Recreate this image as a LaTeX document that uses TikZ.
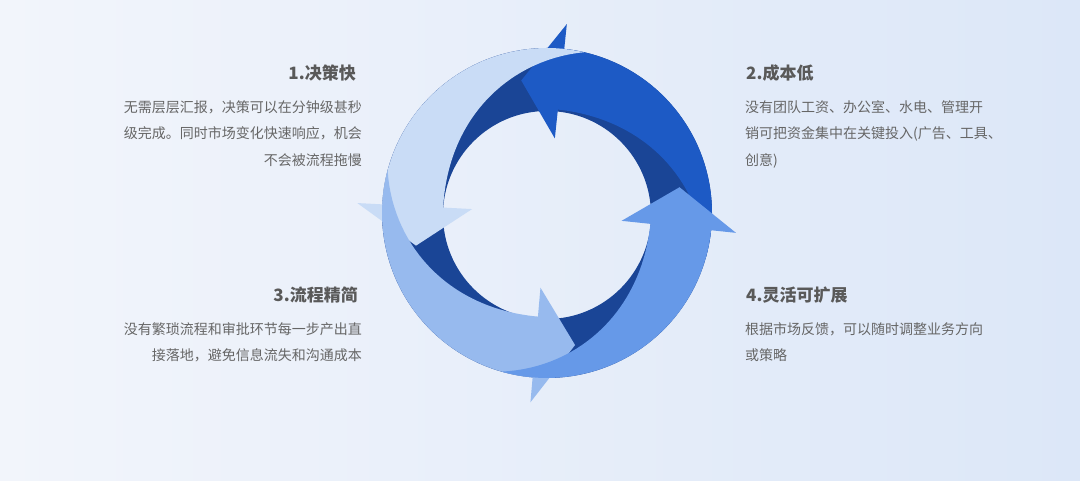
\documentclass[tikz,border=0pt]{standalone}
\usepackage{fontspec}
\setmainfont{Noto Sans CJK SC}
\begin{document}
\begin{tikzpicture}[x=1pt,y=1pt,
  ttl/.style={font=\fontsize{17}{20}\selectfont\bfseries,text=black!65,inner sep=0},
  txt/.style={font=\fontsize{14}{26.5}\selectfont,text=black!60,inner sep=0}]
\definecolor{bgA}{HTML}{F2F5FB}\definecolor{bgB}{HTML}{DCE7F8}
\definecolor{ring}{HTML}{1A4596}
\definecolor{cA}{HTML}{1D5AC5}\definecolor{cB}{HTML}{C9DCF6}
\definecolor{cC}{HTML}{97BAEE}\definecolor{cD}{HTML}{6699E8}
\shade[left color=bgA,right color=bgB] (0,0) rectangle (1080,481);
\useasboundingbox (0,0) rectangle (1080,481);
\fill[ring,even odd rule] (547,268) circle[radius=165] (547,266) circle[radius=104];
\newcommand\cyarrow[2]{%
  \pgfmathsetmacro\aone{#2}\pgfmathsetmacro\azero{#2-100}\pgfmathsetmacro\atip{#2+17}%
  \fill[#1] plot[domain=\azero:\aone,samples=40] ({547+165*cos(\x)},{268+165*sin(\x)})
   -- ({547+190*cos(\aone)},{268+190*sin(\aone)})
   -- ({547+135*cos(\atip)},{268+135*sin(\atip)})
   -- ({547+75*cos(\aone)},{268+75*sin(\aone)})
   -- plot[domain=\aone:\azero,samples=40] ({547+(165-61*sin(90*(\x-\azero)/100))*cos(\x)},{268+(165-61*sin(90*(\x-\azero)/100))*sin(\x)})
   -- cycle;}
\cyarrow{cA}{84}
\cyarrow{cB}{177}
\cyarrow{cC}{265}
\cyarrow{cD}{354}
\node[ttl,anchor=east] (t1) at (356,408) {1.决策快};
\node[txt,anchor=north east,align=right] (b1) at (362,381) {无需层层汇报，决策可以在分钟级甚秒\\级完成。同时市场变化快速响应，机会\\不会被流程拖慢};
\node[ttl,anchor=west] (t2) at (746,408) {2.成本低};
\node[txt,anchor=north west,align=left] (b2) at (745,381) {没有团队工资、办公室、水电、管理开\\销可把资金集中在关键投入(广告、工具、\\创意)};
\node[ttl,anchor=east] (t3) at (358,186) {3.流程精简};
\node[txt,anchor=north east,align=right] (b3) at (362,159) {没有繁琐流程和审批环节每一步产出直\\接落地，避免信息流失和沟通成本};
\node[ttl,anchor=west] (t4) at (746,186) {4.灵活可扩展};
\node[txt,anchor=north west,align=left] (b4) at (745,159) {根据市场反馈，可以随时调整业务方向\\或策略};
\end{tikzpicture}
\end{document}
